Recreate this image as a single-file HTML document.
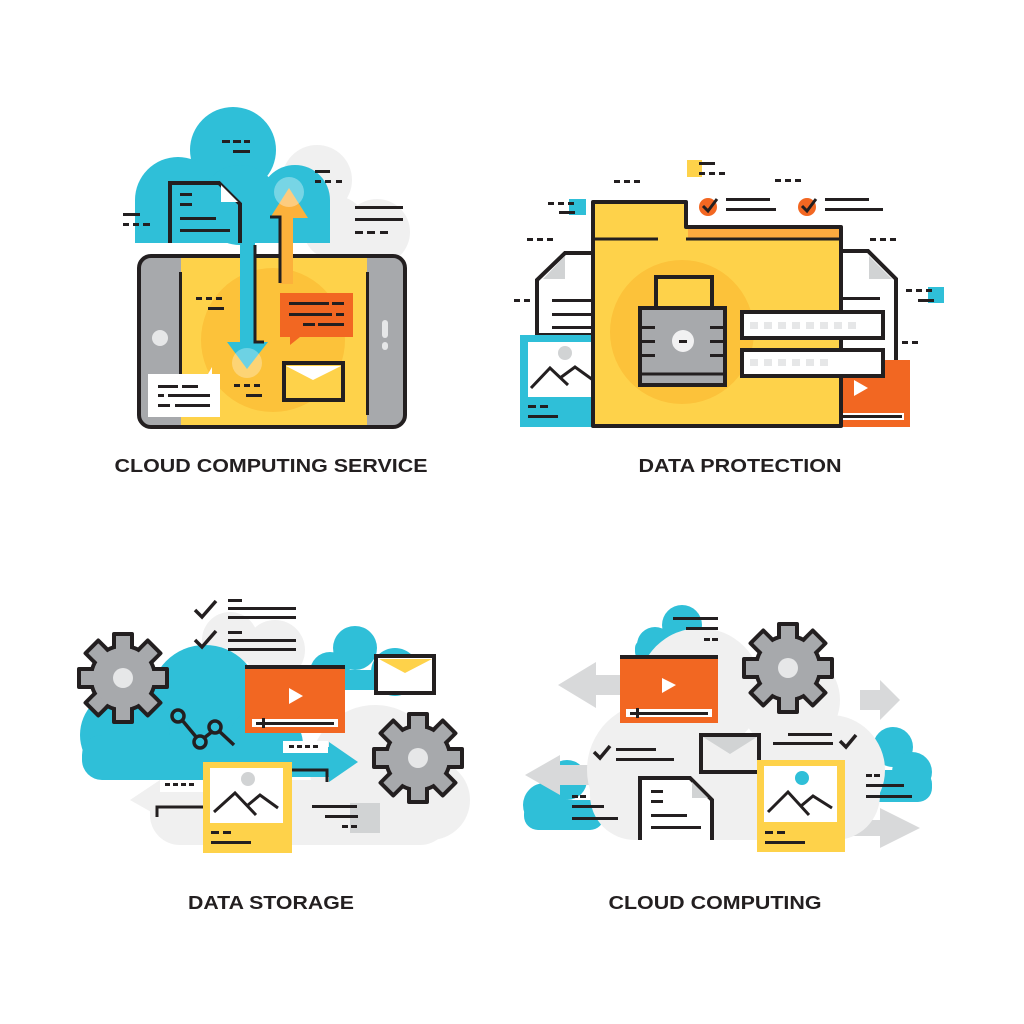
<!DOCTYPE html>
<html><head><meta charset="utf-8"><style>html,body{margin:0;padding:0;background:#fff}svg{display:block}</style></head>
<body>
<svg width="1024" height="1024" viewBox="0 0 1024 1024" xmlns="http://www.w3.org/2000/svg">
<defs>
<g id="gear">
<g fill="#a7a9ac" stroke="#231f20" stroke-width="4" stroke-linejoin="round">
<rect x="-9" y="-44" width="18" height="16" transform="rotate(0)"/>
<rect x="-9" y="-44" width="18" height="16" transform="rotate(45)"/>
<rect x="-9" y="-44" width="18" height="16" transform="rotate(90)"/>
<rect x="-9" y="-44" width="18" height="16" transform="rotate(135)"/>
<rect x="-9" y="-44" width="18" height="16" transform="rotate(180)"/>
<rect x="-9" y="-44" width="18" height="16" transform="rotate(225)"/>
<rect x="-9" y="-44" width="18" height="16" transform="rotate(270)"/>
<rect x="-9" y="-44" width="18" height="16" transform="rotate(315)"/>
<circle r="32"/>
</g>
<g fill="#a7a9ac">
<rect x="-7" y="-41" width="14" height="14" transform="rotate(0)"/>
<rect x="-7" y="-41" width="14" height="14" transform="rotate(45)"/>
<rect x="-7" y="-41" width="14" height="14" transform="rotate(90)"/>
<rect x="-7" y="-41" width="14" height="14" transform="rotate(135)"/>
<rect x="-7" y="-41" width="14" height="14" transform="rotate(180)"/>
<rect x="-7" y="-41" width="14" height="14" transform="rotate(225)"/>
<rect x="-7" y="-41" width="14" height="14" transform="rotate(270)"/>
<rect x="-7" y="-41" width="14" height="14" transform="rotate(315)"/>
<circle r="30"/>
</g>
<circle r="10" fill="#e6e7e8"/>
</g>
</defs>

<!-- ============ Q1 CLOUD COMPUTING SERVICE ============ -->
<g fill="#f0f0f0">
<circle cx="317" cy="180" r="35"/><circle cx="377" cy="232" r="33"/><circle cx="335" cy="228" r="32"/>
</g>
<g fill="#2fbfd8">
<circle cx="233" cy="150" r="43"/><circle cx="178" cy="200" r="43"/><circle cx="295" cy="200" r="35"/><circle cx="240" cy="205" r="40"/>
<rect x="135" y="200" width="195" height="43"/>
</g>
<g fill="#231f20"><rect x="222" y="140" width="8" height="3"/><rect x="233" y="140" width="8" height="3"/><rect x="244" y="140" width="6" height="3"/><rect x="233" y="150" width="17" height="3"/>
<rect x="315" y="170" width="15" height="3"/><rect x="315" y="180" width="6" height="3"/><rect x="325" y="180" width="6" height="3"/><rect x="336" y="180" width="6" height="3"/>
<rect x="355" y="206" width="48" height="3"/><rect x="355" y="218" width="48" height="3"/><rect x="355" y="231" width="8" height="3"/><rect x="367" y="231" width="8" height="3"/><rect x="380" y="231" width="8" height="3"/>
<rect x="123" y="213" width="17" height="3"/><rect x="123" y="223" width="6" height="3"/><rect x="133" y="223" width="6" height="3"/><rect x="143" y="223" width="7" height="3"/>
</g>
<!-- phone -->
<rect x="139" y="256" width="266" height="171" rx="12" fill="#a7a9ac" stroke="#231f20" stroke-width="4"/>
<rect x="181" y="258" width="186" height="167" fill="#fed24a"/>
<circle cx="273" cy="340" r="72" fill="#fcc23a"/>
<rect x="179" y="272" width="3" height="143" fill="#231f20"/><rect x="366" y="272" width="3" height="143" fill="#231f20"/>
<circle cx="160" cy="338" r="8" fill="#e6e7e8"/>
<rect x="382" y="320" width="6" height="18" rx="3" fill="#e6e7e8"/><rect x="382" y="342" width="6" height="8" rx="3" fill="#e6e7e8"/>
<!-- document -->
<path d="M170 243 V183 H219 L240 204 V243" fill="#2fbfd8" stroke="#231f20" stroke-width="4"/>
<path d="M221 185 L238 202 H221 Z" fill="#fff"/>
<g fill="#231f20"><rect x="180" y="193" width="12" height="3"/><rect x="180" y="203" width="12" height="3"/><rect x="180" y="217" width="36" height="3"/><rect x="180" y="229" width="50" height="3"/></g>
<!-- arrows -->
<rect x="240" y="243" width="15" height="100" fill="#2fbfd8"/>
<path d="M227 342 H268 L247 369 Z" fill="#2fbfd8"/>
<circle cx="247" cy="363" r="15" fill="#fff" opacity="0.3"/>
<path d="M255 245 V342 H264" fill="none" stroke="#231f20" stroke-width="3"/>
<rect x="280" y="216" width="13" height="68" fill="#fcb13b"/>
<path d="M270 218 H308 L289 188 Z" fill="#fcb13b"/>
<circle cx="289" cy="192" r="15" fill="#fff" opacity="0.35"/>
<path d="M270 217 H280 V283" fill="none" stroke="#231f20" stroke-width="3"/>
<!-- bubbles -->
<path d="M280 293 H353 V337 H300 L290 345 V337 H280 Z" fill="#f26722"/>
<g fill="#231f20"><rect x="289" y="302" width="40" height="3"/><rect x="332" y="302" width="12" height="3"/><rect x="289" y="313" width="43" height="3"/><rect x="336" y="313" width="8" height="3"/><rect x="303" y="323" width="12" height="3"/><rect x="318" y="323" width="26" height="3"/></g>
<rect x="284" y="363" width="59" height="37" fill="#fed24a" stroke="#231f20" stroke-width="4"/>
<path d="M286 366 L313 380 L341 366 Z" fill="#fff"/>
<path d="M148 374 H208 L212 367 V374 H220 V417 H148 Z" fill="#fff"/>
<g fill="#231f20"><rect x="158" y="385" width="20" height="3"/><rect x="182" y="385" width="16" height="3"/><rect x="158" y="394" width="6" height="3"/><rect x="168" y="394" width="42" height="3"/><rect x="158" y="404" width="12" height="3"/><rect x="175" y="404" width="35" height="3"/>
<rect x="196" y="297" width="6" height="3"/><rect x="206" y="297" width="6" height="3"/><rect x="216" y="297" width="6" height="3"/><rect x="208" y="307" width="16" height="3"/>
<rect x="234" y="384" width="6" height="3"/><rect x="244" y="384" width="6" height="3"/><rect x="254" y="384" width="6" height="3"/><rect x="246" y="394" width="16" height="3"/></g>
<text x="271" y="472" font-family="Liberation Sans, sans-serif" font-weight="bold" font-size="18" fill="#231f20" text-anchor="middle" textLength="313" lengthAdjust="spacingAndGlyphs">CLOUD COMPUTING SERVICE</text>

<!-- ============ Q2 DATA PROTECTION ============ -->
<g fill="#231f20">
<rect x="614" y="180" width="6" height="3"/><rect x="624" y="180" width="6" height="3"/><rect x="634" y="180" width="6" height="3"/>
<rect x="775" y="179" width="6" height="3"/><rect x="785" y="179" width="6" height="3"/><rect x="795" y="179" width="6" height="3"/>
<rect x="527" y="238" width="6" height="3"/><rect x="537" y="238" width="6" height="3"/><rect x="547" y="238" width="6" height="3"/>
<rect x="870" y="238" width="6" height="3"/><rect x="880" y="238" width="6" height="3"/><rect x="890" y="238" width="6" height="3"/>
<rect x="514" y="299" width="6" height="3"/><rect x="524" y="299" width="6" height="3"/>
<rect x="902" y="341" width="6" height="3"/><rect x="912" y="341" width="6" height="3"/>
</g>
<rect x="687" y="160" width="15" height="17" fill="#fed24a"/>
<g fill="#231f20"><rect x="699" y="162" width="16" height="3"/><rect x="699" y="172" width="6" height="3"/><rect x="709" y="172" width="6" height="3"/><rect x="719" y="172" width="6" height="3"/></g>
<rect x="569" y="199" width="17" height="16" fill="#2fbfd8"/>
<g fill="#231f20"><rect x="548" y="202" width="6" height="3"/><rect x="558" y="202" width="6" height="3"/><rect x="568" y="202" width="6" height="3"/><rect x="559" y="211" width="16" height="3"/></g>
<rect x="928" y="287" width="16" height="16" fill="#2fbfd8"/>
<g fill="#231f20"><rect x="906" y="289" width="6" height="3"/><rect x="916" y="289" width="6" height="3"/><rect x="926" y="289" width="6" height="3"/><rect x="918" y="299" width="16" height="3"/></g>
<!-- checks -->
<circle cx="708" cy="207" r="9" fill="#f26722"/><path d="M703 206 L708 211 L717 199" fill="none" stroke="#231f20" stroke-width="3"/>
<circle cx="807" cy="207" r="9" fill="#f26722"/><path d="M802 206 L807 211 L816 199" fill="none" stroke="#231f20" stroke-width="3"/>
<g fill="#231f20"><rect x="726" y="198" width="44" height="3"/><rect x="726" y="208" width="50" height="3"/><rect x="825" y="198" width="44" height="3"/><rect x="825" y="208" width="58" height="3"/></g>
<!-- side docs -->
<path d="M537 335 V280 L565 253 H600 V335 Z" fill="#fff" stroke="#231f20" stroke-width="4"/>
<path d="M543 279 L565 256 V279 Z" fill="#d1d3d4"/>
<g fill="#231f20"><rect x="552" y="299" width="40" height="3"/><rect x="552" y="313" width="40" height="3"/><rect x="552" y="326" width="40" height="3"/></g>
<path d="M835 251 H868 L896 279 V365 H835 Z" fill="#fff" stroke="#231f20" stroke-width="4"/>
<path d="M869 256 L892 279 H869 Z" fill="#d1d3d4"/>
<g fill="#231f20"><rect x="842" y="297" width="38" height="3"/><rect x="842" y="311" width="30" height="3"/></g>
<rect x="520" y="335" width="73" height="92" fill="#2fbfd8"/>
<rect x="528" y="342" width="65" height="55" fill="#fff"/>
<circle cx="565" cy="353" r="7" fill="#d1d3d4"/>
<path d="M531 388 L550 368 L568 385 M560 378 L575 367 L593 380" fill="none" stroke="#231f20" stroke-width="3"/>
<g fill="#231f20"><rect x="528" y="405" width="8" height="3"/><rect x="540" y="405" width="8" height="3"/><rect x="528" y="415" width="30" height="3"/></g>
<rect x="842" y="360" width="68" height="67" fill="#f26722"/>
<path d="M854 380 V396 L868 388 Z" fill="#fff"/>
<rect x="842" y="413" width="62" height="7" fill="#fff"/><rect x="842" y="415" width="60" height="3" fill="#231f20"/>
<!-- folder -->
<path d="M593 202 H686 V227 H841 V426 H593 Z" fill="#fed24a" stroke="#231f20" stroke-width="4" stroke-linejoin="round"/>
<rect x="688" y="229" width="151" height="10" fill="#fdaa3f"/>
<path d="M686 239 H841 M593 239 H658" stroke="#231f20" stroke-width="3"/>
<circle cx="682" cy="332" r="72" fill="#fcc23a"/>
<rect x="656" y="277" width="56" height="32" fill="#fed24a" stroke="#231f20" stroke-width="4"/>
<rect x="640" y="308" width="85" height="77" fill="#a7a9ac" stroke="#231f20" stroke-width="4"/>
<path d="M640 374 H725" stroke="#231f20" stroke-width="3"/>
<g fill="#231f20"><rect x="642" y="326" width="13" height="3"/><rect x="642" y="340" width="13" height="3"/><rect x="642" y="354" width="13" height="3"/><rect x="710" y="326" width="13" height="3"/><rect x="710" y="340" width="13" height="3"/><rect x="710" y="354" width="13" height="3"/></g>
<circle cx="683" cy="341" r="11" fill="#f1f1f2"/><rect x="679" y="340" width="8" height="3" fill="#231f20"/>
<rect x="742" y="312" width="141" height="26" fill="#fff" stroke="#231f20" stroke-width="4"/>
<rect x="742" y="350" width="141" height="26" fill="#fff" stroke="#231f20" stroke-width="4"/>
<g fill="#e6e7e8">
<rect x="750" y="322" width="8" height="7"/><rect x="764" y="322" width="8" height="7"/><rect x="778" y="322" width="8" height="7"/><rect x="792" y="322" width="8" height="7"/><rect x="806" y="322" width="8" height="7"/><rect x="820" y="322" width="8" height="7"/><rect x="834" y="322" width="8" height="7"/><rect x="848" y="322" width="8" height="7"/>
<rect x="750" y="359" width="8" height="7"/><rect x="764" y="359" width="8" height="7"/><rect x="778" y="359" width="8" height="7"/><rect x="792" y="359" width="8" height="7"/><rect x="806" y="359" width="8" height="7"/><rect x="820" y="359" width="8" height="7"/>
</g>
<text x="740" y="472" font-family="Liberation Sans, sans-serif" font-weight="bold" font-size="18" fill="#231f20" text-anchor="middle" textLength="203" lengthAdjust="spacingAndGlyphs">DATA PROTECTION</text>

<!-- ============ Q3 DATA STORAGE ============ -->
<g fill="#f0f0f0">
<circle cx="230" cy="640" r="28"/><circle cx="275" cy="650" r="30"/>
<circle cx="375" cy="770" r="65"/><circle cx="430" cy="800" r="40"/>
<rect x="150" y="780" width="300" height="65" rx="30"/>
<path d="M130 800 L160 780 V817 Z"/>
</g>
<g fill="#2fbfd8">
<circle cx="205" cy="700" r="55"/><circle cx="125" cy="735" r="45"/><circle cx="265" cy="745" r="38"/>
<rect x="82" y="735" width="220" height="45" rx="20"/>
<circle cx="355" cy="648" r="22"/><circle cx="330" cy="672" r="20"/><circle cx="395" cy="672" r="24"/><rect x="310" y="670" width="110" height="20" rx="10"/>
</g>
<!-- checks top -->
<path d="M195 610 L202 617 L216 601 M195 640 L202 647 L216 631" fill="none" stroke="#231f20" stroke-width="3.5"/>
<g fill="#231f20"><rect x="228" y="599" width="14" height="3"/><rect x="228" y="607" width="68" height="3"/><rect x="228" y="616" width="68" height="3"/><rect x="228" y="631" width="14" height="3"/><rect x="228" y="639" width="68" height="3"/><rect x="228" y="648" width="68" height="3"/></g>
<use href="#gear" x="123" y="678"/>
<use href="#gear" x="418" y="758"/>
<!-- network -->
<path d="M182 720 L197 738 M204 738 L213 731 M219 731 L234 745" stroke="#231f20" stroke-width="3.5"/>
<circle cx="178" cy="716" r="6" fill="none" stroke="#231f20" stroke-width="3.5"/><circle cx="200" cy="742" r="6" fill="none" stroke="#231f20" stroke-width="3.5"/><circle cx="215" cy="727" r="6" fill="none" stroke="#231f20" stroke-width="3.5"/>
<!-- arrows -->
<rect x="283" y="747" width="50" height="30" fill="#2fbfd8"/><path d="M329 742 L358 762 L329 782 Z" fill="#2fbfd8"/>
<rect x="283" y="741" width="45" height="12" fill="#fff"/>
<g fill="#231f20"><rect x="289" y="745" width="5" height="3"/><rect x="297" y="745" width="5" height="3"/><rect x="305" y="745" width="5" height="3"/><rect x="313" y="745" width="5" height="3"/></g>
<path d="M290 770 H327 V782" fill="none" stroke="#231f20" stroke-width="3"/>
<rect x="160" y="780" width="45" height="12" fill="#fff"/>
<g fill="#231f20"><rect x="165" y="783" width="5" height="3"/><rect x="173" y="783" width="5" height="3"/><rect x="181" y="783" width="5" height="3"/><rect x="189" y="783" width="5" height="3"/></g>
<path d="M205 807 H157 V817" fill="none" stroke="#231f20" stroke-width="3"/>
<!-- video -->
<rect x="245" y="665" width="100" height="68" fill="#f26722"/><rect x="245" y="665" width="100" height="4" fill="#231f20"/>
<path d="M289 688 V704 L303 696 Z" fill="#fff"/>
<rect x="252" y="719" width="86" height="8" fill="#fff"/><rect x="256" y="722" width="78" height="3" fill="#231f20"/><rect x="262" y="718" width="3" height="10" fill="#231f20"/>
<!-- envelope -->
<rect x="376" y="656" width="58" height="37" fill="#fff" stroke="#231f20" stroke-width="4"/>
<path d="M379 659 L405 673 L432 659 Z" fill="#fed24a"/>
<!-- lines right -->
<rect x="350" y="803" width="30" height="30" fill="#d1d3d4"/>
<g fill="#231f20"><rect x="312" y="805" width="45" height="3"/><rect x="325" y="815" width="33" height="3"/><rect x="342" y="825" width="6" height="3"/><rect x="351" y="825" width="6" height="3"/></g>
<!-- photo -->
<rect x="203" y="762" width="89" height="91" fill="#fed24a"/>
<rect x="210" y="768" width="73" height="55" fill="#fff"/>
<circle cx="248" cy="779" r="7" fill="#d1d3d4"/>
<path d="M214 812 L235 793 L256 815 M248 805 L260 795 L278 808" fill="none" stroke="#231f20" stroke-width="3"/>
<g fill="#231f20"><rect x="211" y="831" width="8" height="3"/><rect x="223" y="831" width="8" height="3"/><rect x="211" y="841" width="40" height="3"/></g>
<text x="271" y="909" font-family="Liberation Sans, sans-serif" font-weight="bold" font-size="18" fill="#231f20" text-anchor="middle" textLength="166" lengthAdjust="spacingAndGlyphs">DATA STORAGE</text>

<!-- ============ Q4 CLOUD COMPUTING ============ -->
<g fill="#2fbfd8">
<circle cx="682" cy="625" r="20"/><circle cx="655" cy="645" r="18"/><rect x="635" y="640" width="75" height="20" rx="8"/>
<circle cx="567" cy="780" r="20"/><circle cx="545" cy="805" r="22"/><rect x="524" y="800" width="80" height="30" rx="14"/>
<circle cx="893" cy="747" r="20"/><circle cx="912" cy="772" r="20"/><rect x="860" y="770" width="72" height="32" rx="14"/>
</g>
<g fill="#d8d9da">
<path d="M620 675 H596 V662 L558 685 L596 708 V695 H620 Z"/>
<path d="M860 690 H880 V680 L900 700 L880 720 V710 H860 Z"/>
<path d="M590 765 H560 V755 L525 775 L560 795 V785 H590 Z"/>
<path d="M850 820 H880 V808 L920 828 L880 848 V836 H850 Z"/>
</g>
<g fill="#f0f0f0">
<circle cx="700" cy="690" r="62"/><circle cx="790" cy="700" r="50"/><circle cx="655" cy="770" r="68"/><circle cx="830" cy="770" r="55"/>
<rect x="590" y="740" width="290" height="100" rx="45"/>
</g>
<g fill="#231f20"><rect x="673" y="617" width="45" height="3"/><rect x="686" y="627" width="32" height="3"/><rect x="704" y="638" width="6" height="3"/><rect x="712" y="638" width="6" height="3"/></g>
<rect x="620" y="655" width="98" height="68" fill="#f26722"/><rect x="620" y="655" width="98" height="4" fill="#231f20"/>
<path d="M662 678 V693 L676 685 Z" fill="#fff"/>
<rect x="626" y="709" width="86" height="8" fill="#fff"/><rect x="630" y="712" width="78" height="3" fill="#231f20"/><rect x="636" y="708" width="3" height="10" fill="#231f20"/>
<use href="#gear" x="788" y="668"/>
<!-- envelope -->
<rect x="701" y="735" width="58" height="37" fill="#f0f0f0" stroke="#231f20" stroke-width="4"/>
<path d="M703 737 L730 754 L757 737 Z" fill="#d1d3d4"/>
<!-- checks/lines -->
<path d="M594 752 L600 758 L610 746" fill="none" stroke="#231f20" stroke-width="3.5"/>
<g fill="#231f20"><rect x="616" y="748" width="40" height="3"/><rect x="616" y="758" width="58" height="3"/>
<rect x="788" y="733" width="44" height="3"/><rect x="773" y="742" width="60" height="3"/>
<rect x="572" y="795" width="6" height="3"/><rect x="580" y="795" width="6" height="3"/><rect x="572" y="805" width="32" height="3"/><rect x="572" y="817" width="46" height="3"/>
<rect x="866" y="774" width="6" height="3"/><rect x="874" y="774" width="6" height="3"/><rect x="866" y="784" width="38" height="3"/><rect x="866" y="795" width="46" height="3"/></g>
<path d="M840 741 L846 747 L856 735" fill="none" stroke="#231f20" stroke-width="3.5"/>
<!-- doc -->
<path d="M640 840 V778 H690 L712 800 V840" fill="#fff" stroke="#231f20" stroke-width="4"/>
<path d="M692 782 L708 798 H692 Z" fill="#d1d3d4"/>
<g fill="#231f20"><rect x="651" y="790" width="12" height="3"/><rect x="651" y="800" width="12" height="3"/><rect x="651" y="814" width="36" height="3"/><rect x="651" y="826" width="50" height="3"/></g>
<!-- photo -->
<rect x="757" y="760" width="88" height="92" fill="#fed24a"/>
<rect x="764" y="766" width="73" height="56" fill="#fff"/>
<circle cx="802" cy="778" r="7" fill="#2fbfd8"/>
<path d="M768 812 L788 792 L809 815 M801 806 L813 796 L832 808" fill="none" stroke="#231f20" stroke-width="3"/>
<g fill="#231f20"><rect x="765" y="831" width="8" height="3"/><rect x="777" y="831" width="8" height="3"/><rect x="765" y="841" width="40" height="3"/></g>
<text x="715" y="909" font-family="Liberation Sans, sans-serif" font-weight="bold" font-size="18" fill="#231f20" text-anchor="middle" textLength="213" lengthAdjust="spacingAndGlyphs">CLOUD COMPUTING</text>
</svg>
</body></html>
